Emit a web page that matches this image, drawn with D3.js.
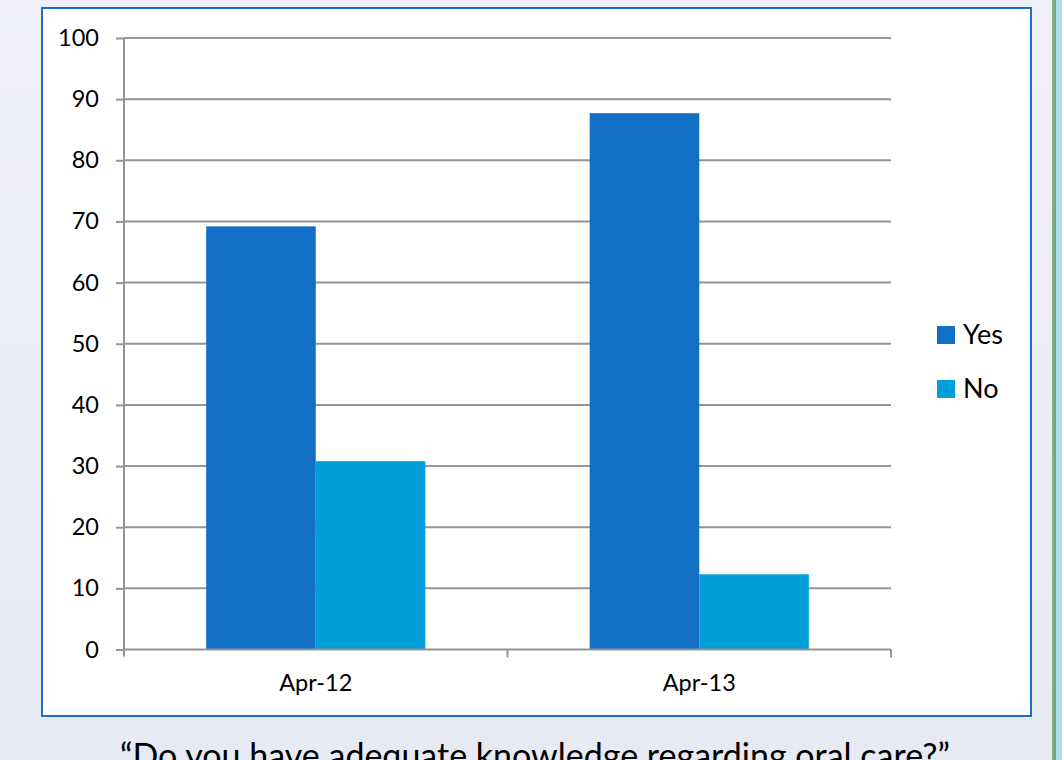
<!DOCTYPE html>
<html>
<head>
<meta charset="utf-8">
<script src="https://cdn.jsdelivr.net/npm/d3@7"></script>
<style>
  html, body { margin: 0; padding: 0; }
  body { width: 1062px; height: 760px; overflow: hidden; }
  svg { display: block; }
</style>
</head>
<body>
<svg id="chart" width="1062" height="760"></svg>
<script>
// Survey answers by period (percent)
const categories = ["Apr-12", "Apr-13"];
const seriesNames = ["Yes", "No"];
const yesValues = [69.2, 87.7];
const noValues = [30.8, 12.3];
const yTicks = [0, 10, 20, 30, 40, 50, 60, 70, 80, 90, 100];
const caption = "\u201cDo you have adequate knowledge regarding oral care?\u201d";

const colors = { Yes: "#1170c6", No: "#009fd9" };
const font = "Lato, 'Liberation Sans', sans-serif";

const svg = d3.select("#chart");

// slide background
const defs = svg.append("defs");
const bg = defs.append("linearGradient").attr("id", "bg").attr("x1", 0).attr("y1", 0).attr("x2", 0).attr("y2", 1);
bg.append("stop").attr("offset", "0%").attr("stop-color", "#eff0f7");
bg.append("stop").attr("offset", "100%").attr("stop-color", "#e7eaf3");
svg.append("rect").attr("width", 1062).attr("height", 760).attr("fill", "url(#bg)");

// decorative stripe on the right edge
svg.append("rect").attr("x", 1052).attr("y", 0).attr("width", 2).attr("height", 760).attr("fill", "#8ea883");
svg.append("rect").attr("x", 1054).attr("y", 0).attr("width", 2).attr("height", 760).attr("fill", "#72a878");
svg.append("rect").attr("x", 1056).attr("y", 0).attr("width", 6).attr("height", 760).attr("fill", "#a8e2e8");

// chart frame
svg.append("rect")
  .attr("x", 42).attr("y", 8).attr("width", 989).attr("height", 708)
  .attr("fill", "#ffffff").attr("stroke", "#1a6fc7").attr("stroke-width", 2);

const plot = { left: 124, right: 891, top: 38, bottom: 649.5 };

const y = d3.scaleLinear().domain([0, 100]).range([plot.bottom, plot.top]);
const x0 = d3.scaleBand().domain(categories).range([plot.left, plot.right]).paddingInner(0).paddingOuter(0);
// Excel-style gap width of 150%: two bars + 1.5 bar widths per band
const barW = x0.bandwidth() / 3.5;
const x1 = d3.scaleBand().domain(seriesNames)
  .range([barW * 0.75, barW * 0.75 + barW * 2]).padding(0);

const gridColor = "#949494";

// horizontal gridlines
svg.append("g").selectAll("line").data(yTicks.filter(d => d > 0)).join("line")
  .attr("x1", plot.left).attr("x2", plot.right)
  .attr("y1", d => y(d)).attr("y2", d => y(d))
  .attr("stroke", gridColor).attr("stroke-width", 2);

// bars
const rows = categories.map((c, i) => ({ cat: c, Yes: yesValues[i], No: noValues[i] }));
const groups = svg.append("g").selectAll("g").data(rows).join("g")
  .attr("transform", d => `translate(${x0(d.cat)},0)`);
groups.selectAll("rect").data(d => seriesNames.map(s => ({ s, v: d[s] }))).join("rect")
  .attr("x", d => x1(d.s))
  .attr("width", x1.bandwidth())
  .attr("y", d => y(d.v))
  .attr("height", d => y(0) - y(d.v))
  .attr("fill", d => colors[d.s]);

// y axis
const yAxis = svg.append("g").attr("transform", `translate(${plot.left},0)`)
  .call(d3.axisLeft(y).tickValues(yTicks).tickSize(8).tickPadding(17).tickFormat(d3.format("d")));
yAxis.select(".domain").attr("stroke", gridColor).attr("stroke-width", 2).attr("d", `M0,${plot.top}V${plot.bottom + 7}`);
yAxis.selectAll(".tick line").attr("stroke", gridColor).attr("stroke-width", 2);
yAxis.selectAll(".tick text").attr("font-family", font).attr("font-size", 23.5).attr("fill", "#000");

// x axis
const xAxis = svg.append("g").attr("transform", `translate(0,${plot.bottom})`)
  .call(d3.axisBottom(x0).tickSize(0).tickPadding(25));
xAxis.select(".domain").attr("stroke", gridColor).attr("stroke-width", 2).attr("d", `M${plot.left},0H${plot.right}`);
xAxis.selectAll(".tick text").attr("font-family", font).attr("font-size", 23.5).attr("fill", "#000");
// category separators
svg.append("g").selectAll("line").data(categories.slice(1).map(c => x0(c)).concat([plot.right])).join("line")
  .attr("x1", d => d).attr("x2", d => d)
  .attr("y1", plot.bottom).attr("y2", plot.bottom + 8)
  .attr("stroke", gridColor).attr("stroke-width", 2);

// legend
const legend = svg.append("g").attr("transform", "translate(937,326)");
const li = legend.selectAll("g").data(seriesNames).join("g")
  .attr("transform", (d, i) => `translate(0,${i * 54})`);
li.append("rect").attr("width", 18).attr("height", 18).attr("fill", d => colors[d]);
li.append("text").attr("x", 26).attr("y", 18)
  .attr("font-family", font).attr("font-size", 27).attr("fill", "#000")
  .text(d => d);

// caption below the frame
svg.append("text")
  .attr("x", 535).attr("y", 768)
  .attr("text-anchor", "middle")
  .attr("font-family", font).attr("font-size", 34).attr("fill", "#000")
  .text(caption);
</script>
</body>
</html>
